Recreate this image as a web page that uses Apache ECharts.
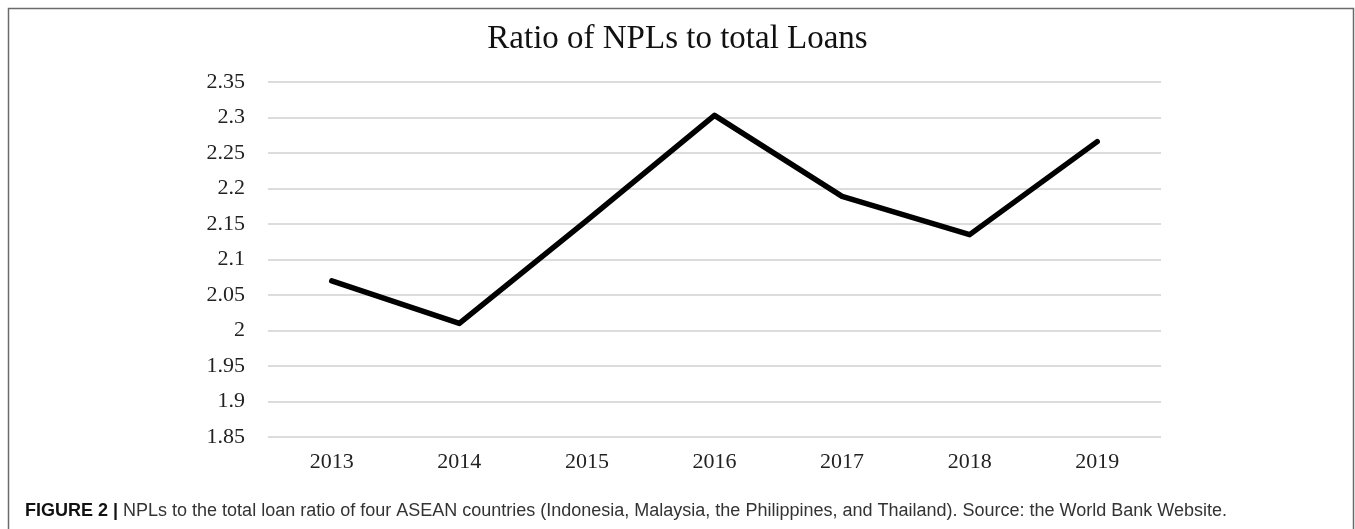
<!DOCTYPE html>
<html lang="en">
<head>
    <meta charset="UTF-8">
    <title>Ratio of NPLs to total Loans</title>
    <script src="https://cdn.jsdelivr.net/npm/echarts@6/dist/echarts.min.js"></script>
    <style>
        html, body { margin: 0; padding: 0; background: #fff; }
        #box { width: 1355px; height: 529px; }
    </style>
</head>
<body>
<div id="box"></div>
<script>
    // data
    var years = ['2013', '2014', '2015', '2016', '2017', '2018', '2019'];
    var nplRatio = [2.07, 2.01, 2.155, 2.303, 2.189, 2.135, 2.266];
    var yMin = 1.85;
    var yMax = 2.35;
    var yStep = 0.05;

    var titleText = 'Ratio of NPLs to total Loans';
    var captionHead = 'FIGURE 2 |';
    var captionBody = 'NPLs to the total loan ratio of four ASEAN countries (Indonesia, Malaysia, the Philippines, and Thailand). Source: the World Bank Website.';

    var myChart = echarts.init(document.getElementById('box'));

    var option = {
        animation: false,
        title: {
            text: titleText,
            left: 'center',
            top: 18,
            textStyle: {
                fontFamily: 'Liberation Serif',
                fontWeight: 'normal',
                fontSize: 33,
                color: '#111'
            }
        },
        grid: {
            left: 268,
            right: 194,
            top: 82,
            bottom: 92
        },
        xAxis: {
            type: 'category',
            data: years,
            boundaryGap: true,
            axisLine: { show: false },
            axisTick: { show: false },
            axisLabel: {
                margin: 14,
                fontFamily: 'Liberation Serif',
                fontSize: 22,
                color: '#222'
            }
        },
        yAxis: {
            type: 'value',
            min: yMin,
            max: yMax,
            interval: yStep,
            axisLine: { show: false },
            axisTick: { show: false },
            axisLabel: {
                margin: 23,
                fontFamily: 'Liberation Serif',
                fontSize: 22,
                color: '#222',
                formatter: function (v) {
                    return String(parseFloat(v.toFixed(2)));
                }
            },
            splitLine: {
                lineStyle: { color: '#dcdcdc', width: 2 }
            }
        },
        graphic: [
            {
                type: 'rect',
                silent: true,
                shape: { x: 8.5, y: 8.5, width: 1345, height: 600 },
                style: { fill: 'none', stroke: '#6b6b6b', lineWidth: 1.5 }
            },
            {
                type: 'text',
                left: 25,
                top: 502,
                style: {
                    text: '{b|' + captionHead + '} ' + captionBody,
                    fontFamily: 'Liberation Sans',
                    fontSize: 18,
                    fill: '#333',
                    rich: {
                        b: {
                            fontFamily: 'Liberation Sans',
                            fontWeight: 'bold',
                            fontSize: 18,
                            fill: '#111'
                        }
                    }
                }
            }
        ],
        series: [
            {
                name: 'NPLs ratio',
                type: 'line',
                data: nplRatio,
                symbol: 'none',
                lineStyle: { color: '#000', width: 5.5, join: 'round', cap: 'round' }
            }
        ]
    };
    myChart.setOption(option);
</script>
</body>
</html>
